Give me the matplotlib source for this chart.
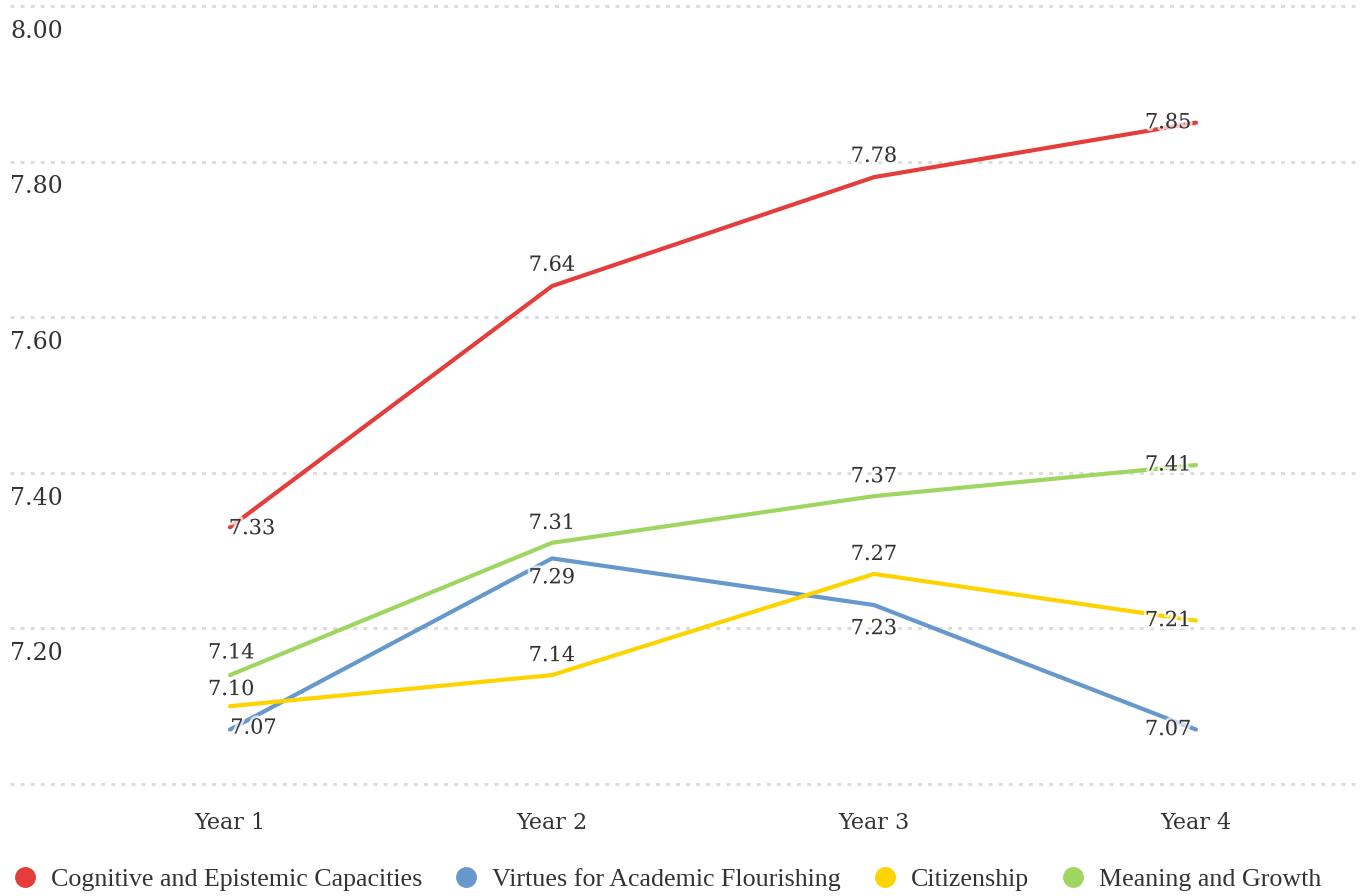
import matplotlib
matplotlib.use('Agg')
import matplotlib.pyplot as plt
import matplotlib.patheffects as pe
from matplotlib.lines import Line2D

years = ['Year 1', 'Year 2', 'Year 3', 'Year 4']
series_names = ['Cognitive and Epistemic Capacities', 'Virtues for Academic Flourishing',
                'Citizenship', 'Meaning and Growth']
cognitive = [7.33, 7.64, 7.78, 7.85]
virtues = [7.07, 7.29, 7.23, 7.07]
citizenship = [7.10, 7.14, 7.27, 7.21]
meaning = [7.14, 7.31, 7.37, 7.41]
y_ticks = [7.0, 7.2, 7.4, 7.6, 7.8, 8.0]
y_tick_labels = ['', '7.20', '7.40', '7.60', '7.80', '8.00']

colors = ['#e43d3b', '#6698cb', '#fdd400', '#9fd661']

# label offsets in points (dx, dy) per series / point
label_offsets = [
    [(16, -1), (0, 15), (0, 15), (-20, 0)],
    [(17, 1), (0, -14), (0, -17), (-20, 0)],
    [(1, 12), (0, 14), (0, 14), (-20, 0)],
    [(1, 16), (0, 14), (0, 14), (-20, 0)],
]

FONT = 'DejaVu Serif'
TXT = '#333333'

fig = plt.figure(figsize=(13.61, 8.96), dpi=100)
ax = fig.add_axes([10 / 1361, 112 / 896, 1345 / 1361, 778 / 896])
x = list(range(len(years)))
ax.set_xlim((10 - 230) / 322, (1355 - 230) / 322)
ax.set_ylim(7.0, 8.0)

for yv in y_ticks:
    ax.axhline(yv, color='#dddddd', lw=2.2, linestyle=(0, (1.3, 2.0)), zorder=0,
               clip_on=False)
for yv, lab in zip(y_ticks, y_tick_labels):
    if lab:
        ax.annotate(lab, (0, yv), xycoords=('axes fraction', 'data'),
                    xytext=(0, -10), textcoords='offset points',
                    ha='left', va='top', fontsize=17, family=FONT, color=TXT)

all_series = [cognitive, virtues, citizenship, meaning]
for vals, col, offs in zip(all_series, colors, label_offsets):
    ax.plot(x, vals, color=col, lw=3, solid_capstyle='round', zorder=2)
    for xi, v, (dx, dy) in zip(x, vals, offs):
        ax.annotate(f'{v:.2f}', (xi, v), xytext=(dx, dy), textcoords='offset points',
                    ha='center', va='center', fontsize=15, family=FONT, color=TXT,
                    zorder=3,
                    path_effects=[pe.withStroke(linewidth=4, foreground='white', alpha=0.7)])

for xi, lab in zip(x, years):
    ax.annotate(lab, (xi, 7.0), xytext=(0, -28), textcoords='offset points',
                ha='center', va='center', fontsize=16, family=FONT, color=TXT,
                annotation_clip=False)

for s in ax.spines.values():
    s.set_visible(False)
ax.set_xticks([])
ax.set_yticks([])

handles = [Line2D([], [], marker='o', linestyle='', markersize=14, color=c) for c in colors]
fig.legend(handles, series_names, loc='lower left', bbox_to_anchor=(-0.0084, -0.021),
           ncol=4, frameon=False, prop={'family': 'Liberation Serif', 'size': 18.7},
           handlelength=1.0, handletextpad=0.5, columnspacing=1.19, labelcolor=TXT)

fig.savefig('out.png', dpi=100, facecolor='white')
